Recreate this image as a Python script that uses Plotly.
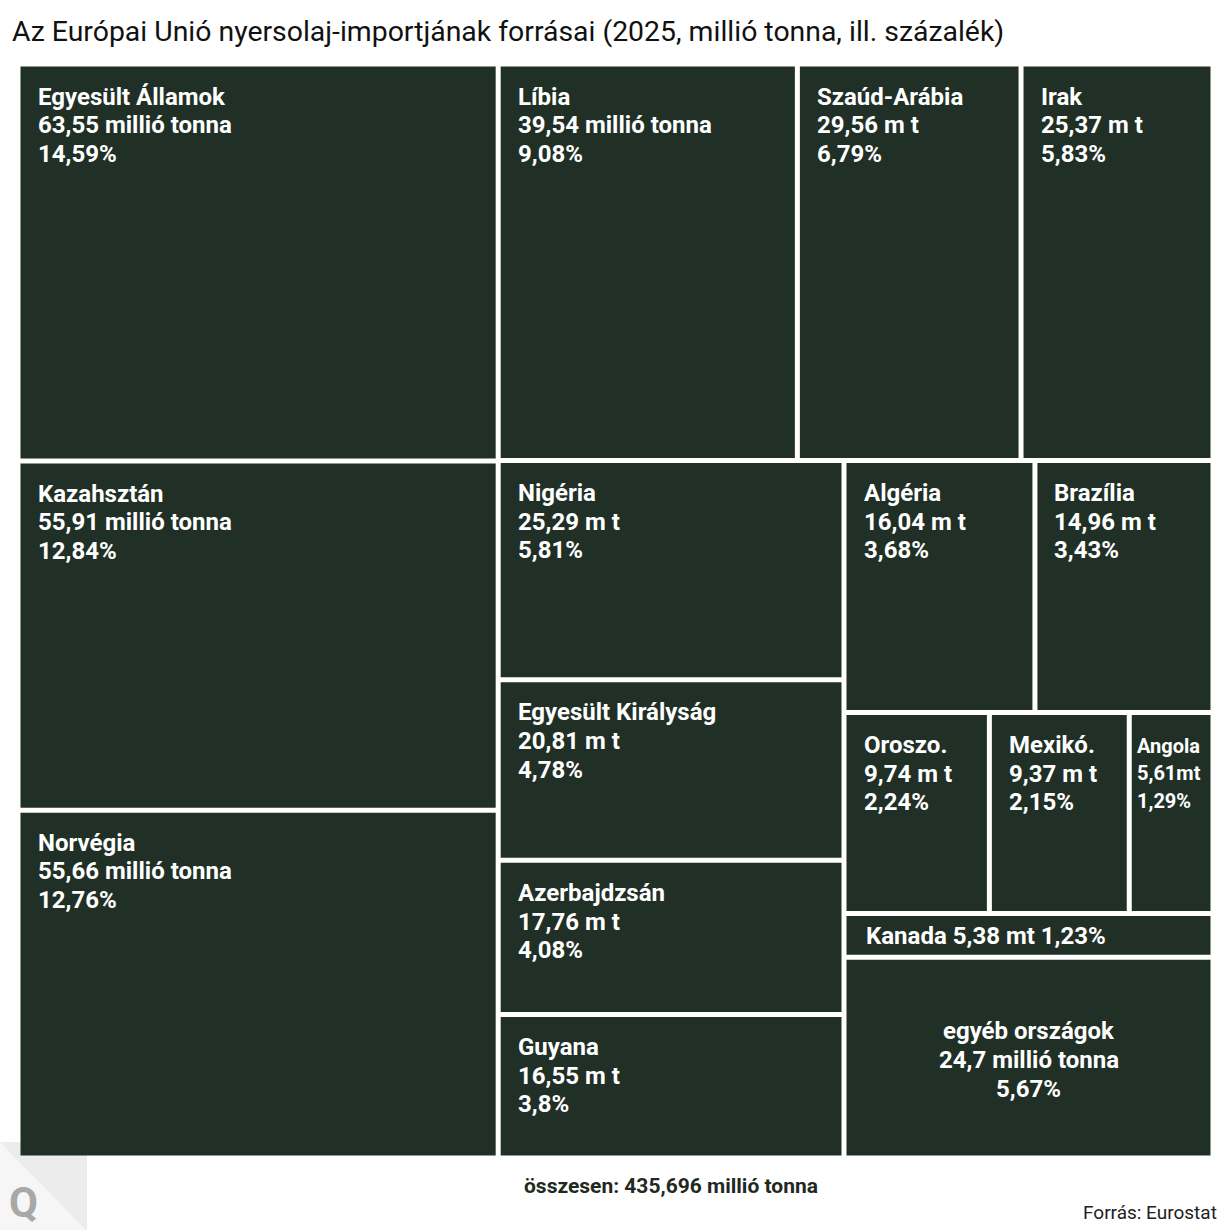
import plotly.graph_objects as go

# EU crude oil import sources, 2025 (million tonnes) - order as laid out in the treemap
countries = [
    "Egyesült Államok", "Kazahsztán", "Norvégia",
    "Líbia", "Szaúd-Arábia", "Irak",
    "Nigéria", "Egyesült Királyság", "Azerbajdzsán", "Guyana",
    "Algéria", "Brazília",
    "Oroszo.", "Mexikó.", "Angola",
    "Kanada",
    "egyéb országok",
]
values = [
    63.55, 55.91, 55.66,
    39.54, 29.56, 25.37,
    25.29, 20.81, 17.76, 16.55,
    16.04, 14.96,
    9.74, 9.37, 5.61,
    5.38,
    24.7,
]
amount_labels = [
    "63,55 millió tonna", "55,91 millió tonna", "55,66 millió tonna",
    "39,54 millió tonna", "29,56 m t", "25,37 m t",
    "25,29 m t", "20,81 m t", "17,76 m t", "16,55 m t",
    "16,04 m t", "14,96 m t",
    "9,74 m t", "9,37 m t", "5,61mt",
    "5,38 mt",
    "24,7 millió tonna",
]
share_labels = [
    "14,59%", "12,84%", "12,76%",
    "9,08%", "6,79%", "5,83%",
    "5,81%", "4,78%", "4,08%", "3,8%",
    "3,68%", "3,43%",
    "2,24%", "2,15%", "1,29%",
    "1,23%",
    "5,67%",
]
other_label = "egyéb országok"
title_text = "Az Európai Unió nyersolaj-importjának forrásai (2025, millió tonna, ill. százalék)"
total_text = "összesen: 435,696 millió tonna"
source_text = "Forrás: Eurostat"

CELL = "#213026"
W, H = 1195, 1094          # plot area in px, axes map 1:1
L, T = 18, 64
GAP = 5
GOLDEN = (1 + 5 ** 0.5) / 2


def squarify(vals, x0, y0, x1, y1, ratio=GOLDEN):
    # same rule as d3.treemapSquarify (golden ratio)
    rects = [None] * len(vals)
    remaining = sum(vals)
    n = len(vals)
    i0 = 0
    while i0 < n:
        dx, dy = x1 - x0, y1 - y0
        s = vals[i0]
        i1 = i0 + 1
        vmin = vmax = s
        alpha = max(dy / dx, dx / dy) / (remaining * ratio)
        beta = s * s * alpha
        best = max(vmax / beta, beta / vmin)
        while i1 < n:
            v = vals[i1]
            s2 = s + v
            mn, mx = min(vmin, v), max(vmax, v)
            beta = s2 * s2 * alpha
            r = max(mx / beta, beta / mn)
            if r > best:
                break
            s, vmin, vmax, best = s2, mn, mx, r
            i1 += 1
        if dx < dy:
            ry = y0 + dy * s / remaining
            cx = x0
            for k in range(i0, i1):
                w = dx * vals[k] / s
                rects[k] = (cx, y0, cx + w, ry)
                cx += w
            y0 = ry
        else:
            rx = x0 + dx * s / remaining
            cy = y0
            for k in range(i0, i1):
                h = dy * vals[k] / s
                rects[k] = (x0, cy, rx, cy + h)
                cy += h
            x0 = rx
        remaining -= s
        i0 = i1
    return rects


def px(x):
    return (x - L) / W


def py(y):
    return 1 - (y - T) / H


rects = squarify(values, 0, 0, W, H)

shapes = [
    # Q logo in the corner, sits behind the cells
    dict(type="rect", xref="paper", yref="paper", x0=px(0), x1=px(87), y0=py(1142), y1=py(1232),
         fillcolor="#ececec", line_width=0),
    dict(type="path", xref="paper", yref="paper",
         path=f"M {px(0)},{py(1142)} L {px(88)},{py(1232)} L {px(0)},{py(1232)} Z",
         fillcolor="#f6f6f6", line_width=0),
]
annotations = []


def cell_text(lines, x, y_first, step, size, anchor="left"):
    for i, line in enumerate(lines):
        annotations.append(dict(x=x, y=y_first + i * step, xanchor=anchor, yanchor="middle",
                                text=line, font=dict(size=size)))


for name, amount, share, (x0, y0, x1, y1) in zip(countries, amount_labels, share_labels, rects):
    g = GAP / 2
    shapes.append(dict(type="rect", xref="x", yref="y", x0=x0 + g, x1=x1 - g, y0=y0 + g, y1=y1 - g,
                       fillcolor=CELL, line_width=0))
    w, h = x1 - x0, y1 - y0
    if name == other_label:
        cell_text([name, amount, share], (x0 + x1) / 2, (y0 + y1) / 2 - 27, 29, 24, "center")
    elif h < 60:
        cell_text([f"{name} {amount} {share}"], x0 + g + 17, (y0 + y1) / 2 + 1, 0, 24)
    elif w < 100:
        cell_text([name, amount, share], x0 + g + 3, y0 + g + 31, 27.5, 20)
    else:
        cell_text([name, amount, share], x0 + g + 15, y0 + g + 30, 28.7, 24)

for a in annotations:
    a.update(xref="x", yref="y", showarrow=False, align=a["xanchor"])
    a["font"].update(family="Roboto", color="#ffffff", weight="bold")

annotations += [
    dict(xref="paper", yref="paper", x=px(671), y=py(1186), xanchor="center", yanchor="middle",
         text=total_text, showarrow=False,
         font=dict(family="Roboto", size=21, color="#1f2a22", weight="bold")),
    dict(xref="paper", yref="paper", x=px(1219), y=py(1212), xanchor="right", yanchor="middle",
         text=source_text, showarrow=False, font=dict(family="Roboto", size=19, color="#222222")),
    dict(xref="paper", yref="paper", x=px(23), y=py(1202), xanchor="center", yanchor="middle",
         text="Q", showarrow=False,
         font=dict(family="Roboto", size=42, color="#a8a8a8", weight="bold")),
]

fig = go.Figure()
fig.update_layout(
    width=1230,
    height=1230,
    margin=dict(l=L, r=1230 - L - W, t=T, b=1230 - T - H),
    paper_bgcolor="#ffffff",
    plot_bgcolor="#ffffff",
    showlegend=False,
    title=dict(text=title_text, xref="container", yref="container", x=12 / 1230, xanchor="left",
               y=1 - 31 / 1230, yanchor="middle",
               font=dict(family="Roboto", size=28.4, color="#111111")),
    xaxis=dict(range=[0, W], visible=False, fixedrange=True),
    yaxis=dict(range=[H, 0], visible=False, fixedrange=True),
    shapes=shapes,
    annotations=annotations,
)

# the page's default body margin would push the 1230px figure off the window
fig.write_html("out.html", config={"displayModeBar": False},
               post_script="document.body.style.margin = '0';")
